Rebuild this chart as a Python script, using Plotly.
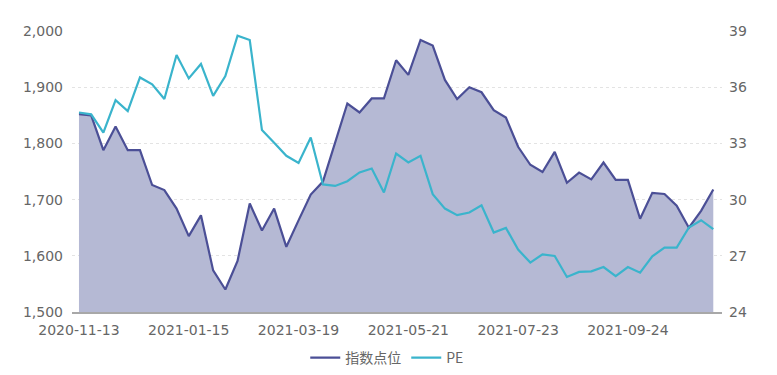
import plotly.graph_objects as go
import pandas as pd

dates = pd.date_range("2020-11-13", periods=53, freq="7D").strftime("%Y-%m-%d").tolist()

index_points = [1852, 1850, 1788, 1830, 1788, 1788, 1726, 1717, 1684, 1635,
                1672, 1574, 1540, 1591, 1693, 1645, 1684, 1616, 1663, 1709,
                1732, 1800, 1871, 1855, 1880, 1880, 1948, 1922, 1984, 1974,
                1913, 1879, 1900, 1891, 1859, 1846, 1794, 1762, 1749, 1785,
                1730, 1748, 1736, 1766, 1735, 1735, 1666, 1712, 1710, 1689,
                1650, 1680, 1718]

pe_values = [34.65, 34.55, 33.57, 35.31, 34.72, 36.52, 36.15, 35.37, 37.72, 36.47,
             37.24, 35.54, 36.59, 38.75, 38.52, 33.71, 33.03, 32.34, 31.96, 33.32,
             30.81, 30.73, 30.98, 31.45, 31.66, 30.38, 32.46, 31.98, 32.34, 30.29,
             29.52, 29.17, 29.31, 29.70, 28.24, 28.49, 27.33, 26.64, 27.08, 26.99,
             25.87, 26.14, 26.17, 26.40, 25.91, 26.40, 26.10, 26.97, 27.44, 27.44,
             28.51, 28.90, 28.42]

tick_dates = ["2020-11-13", "2021-01-15", "2021-03-19", "2021-05-21", "2021-07-23", "2021-09-24"]
left_ticks = [1500, 1600, 1700, 1800, 1900, 2000]
left_tick_text = ["1,500", "1,600", "1,700", "1,800", "1,900", "2,000"]
right_ticks = [24, 27, 30, 33, 36, 39]

tick_font = dict(family="DejaVu Sans, sans-serif", size=14, color="#666666")
legend_font = dict(family="Noto Sans CJK SC, sans-serif", size=14, color="#666666")

INDEX_COLOR = "#4b4f96"
PE_COLOR = "#3ab4cc"

fig = go.Figure()
fig.add_trace(go.Scatter(
    x=dates, y=index_points, name="指数点位", mode="lines",
    line=dict(color=INDEX_COLOR, width=2.2),
    fill="tozeroy", fillcolor="#b5b9d4", showlegend=False,
))
fig.add_trace(go.Scatter(
    x=dates, y=pe_values, name="PE", mode="lines", yaxis="y2",
    line=dict(color=PE_COLOR, width=2.2), showlegend=False,
))
# legend entries (line-only symbols)
fig.add_trace(go.Scatter(x=[None], y=[None], name="指数点位", mode="lines",
                         line=dict(color=INDEX_COLOR, width=2.2)))
fig.add_trace(go.Scatter(x=[None], y=[None], name="PE", mode="lines",
                         line=dict(color=PE_COLOR, width=2.2)))

x_start = (pd.Timestamp(dates[0]) - pd.Timedelta(days=4)).strftime("%Y-%m-%d")
x_end = (pd.Timestamp(dates[-1]) + pd.Timedelta(days=5)).strftime("%Y-%m-%d")

# The page body has an 8px default margin, so the figure is sized/offset to compensate.
fig.update_layout(
    width=769, height=367,
    margin=dict(l=64, r=55, t=23, b=63),
    paper_bgcolor="white", plot_bgcolor="white",
    font=legend_font,
    showlegend=True,
    legend=dict(orientation="h", x=0.485, xanchor="center",
                yref="container", y=0.046, yanchor="middle",
                font=legend_font, itemwidth=30),
    xaxis=dict(
        type="date", range=[x_start, x_end], automargin=False,
        tickvals=tick_dates, ticktext=tick_dates,
        showgrid=False, showline=True, linecolor="#a8a8a8", linewidth=1.5,
        ticks="", tickfont=tick_font, ticklabelstandoff=4,
    ),
    yaxis=dict(
        range=[1500, 2000], tickvals=left_ticks, ticktext=left_tick_text,
        automargin=False,
        showgrid=True, gridcolor="#e3e3e3", griddash="dot", gridwidth=1,
        zeroline=False, showline=False, ticks="",
        tickfont=tick_font, ticklabelstandoff=8,
    ),
    yaxis2=dict(
        range=[24, 39], tickvals=right_ticks, overlaying="y", side="right",
        automargin=False,
        showgrid=False, zeroline=False, showline=False, ticks="",
        tickfont=tick_font, ticklabelstandoff=6,
    ),
)

fig.write_html("out.html")
